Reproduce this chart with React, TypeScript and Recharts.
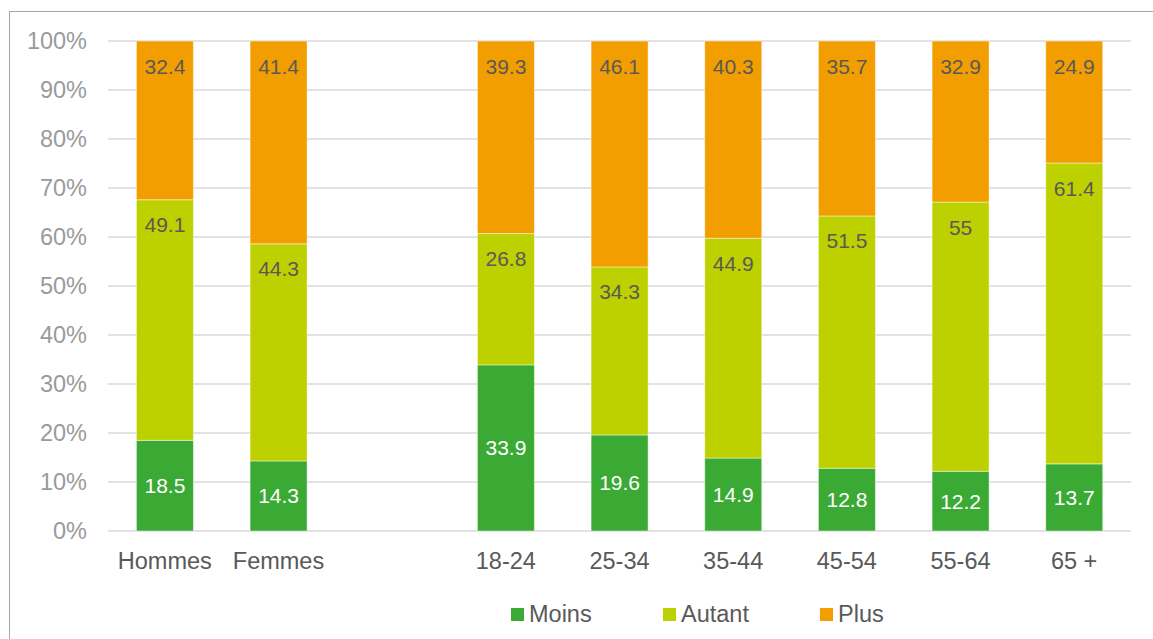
import React from 'react';
import { BarChart, Bar, XAxis, YAxis, CartesianGrid, Legend, LabelList } from 'recharts';

const categories = ['Hommes', 'Femmes', '', '18-24', '25-34', '35-44', '45-54', '55-64', '65 +'];
const moins = [18.5, 14.3, null, 33.9, 19.6, 14.9, 12.8, 12.2, 13.7];
const autant = [49.1, 44.3, null, 26.8, 34.3, 44.9, 51.5, 55, 61.4];
const plus = [32.4, 41.4, null, 39.3, 46.1, 40.3, 35.7, 32.9, 24.9];
const yTicks = [0, 0.1, 0.2, 0.3, 0.4, 0.5, 0.6, 0.7, 0.8, 0.9, 1];

const seriesInfo = [
  { key: 'moins', name: 'Moins', color: '#3AAA35', legendLeft: 511 },
  { key: 'autant', name: 'Autant', color: '#BDD000', legendLeft: 663 },
  { key: 'plus', name: 'Plus', color: '#F29E00', legendLeft: 820 },
];

const data = categories.map((c, i) => ({
  name: c,
  moins: moins[i],
  autant: autant[i],
  plus: plus[i],
}));

const FONT = '"Liberation Sans", Arial, sans-serif';

const makeLabel = (mode: 'center' | 'top', color: string) => (props: any) => {
  const { x, y, width, height, value } = props;
  if (value === null || value === undefined) return null;
  const cy = mode === 'center' ? y + height / 2 : y + 25;
  return (
    <text
      x={x + width / 2}
      y={cy}
      textAnchor="middle"
      dominantBaseline="central"
      fill={color}
      fontSize={21}
      fontFamily={FONT}
    >
      {value}
    </text>
  );
};

const LegendContent = () => (
  <div
    style={{
      position: 'relative',
      fontFamily: FONT,
      fontSize: 23.5,
      color: '#595959',
      height: 34,
      width: 1153,
    }}
  >
    {seriesInfo.map((s) => (
      <div
        key={s.key}
        style={{
          position: 'absolute',
          left: s.legendLeft,
          top: 0,
          height: 34,
          display: 'flex',
          alignItems: 'center',
        }}
      >
        <span
          style={{
            display: 'inline-block',
            width: 13,
            height: 13,
            background: s.color,
            marginRight: 5,
          }}
        />
        <span>{s.name}</span>
      </div>
    ))}
  </div>
);

export default function App() {
  return (
    <div
      style={{
        position: 'absolute',
        left: 0,
        top: 0,
        width: 1153,
        height: 639,
        background: '#fff',
        overflow: 'hidden',
      }}
    >
      <div
        style={{
          position: 'absolute',
          left: 9,
          top: 11,
          width: 1200,
          height: 700,
          border: '1.5px solid #a6a6a6',
          boxSizing: 'border-box',
        }}
      />
      <div style={{ position: 'absolute', left: 0, top: 0 }}>
        <BarChart
          width={1153}
          height={639}
          data={data}
          stackOffset="expand"
          barCategoryGap="25%"
          margin={{ top: 41, right: 22, left: 0, bottom: 0 }}
        >
          <CartesianGrid vertical={false} stroke="#e2e2e2" strokeWidth={2} />
          <XAxis
            dataKey="name"
            tickLine={false}
            axisLine={false}
            tickSize={0}
            tickMargin={21}
            height={74}
            interval={0}
            tick={{ fill: '#595959', fontSize: 23.5, fontFamily: FONT }}
          />
          <YAxis
            width={108}
            domain={[0, 1]}
            ticks={yTicks}
            tickFormatter={(v: number) => `${Math.round(v * 100)}%`}
            tickLine={false}
            axisLine={false}
            tickSize={0}
            tickMargin={21}
            tick={{ fill: '#9a9a9a', fontSize: 23.5, fontFamily: FONT }}
          />
          <Legend
            content={<LegendContent />}
            wrapperStyle={{ position: 'absolute', top: 597, left: 0, width: 1153, bottom: 'auto' }}
          />
          {seriesInfo.map((s) => (
            <Bar
              key={s.key}
              dataKey={s.key}
              name={s.name}
              stackId="a"
              fill={s.color}
              stroke="#ffffff"
              strokeWidth={0.75}
              strokeOpacity={0.6}
              isAnimationActive={false}
            >
              <LabelList
                dataKey={s.key}
                content={makeLabel(s.key === 'moins' ? 'center' : 'top', s.key === 'moins' ? '#ffffff' : '#595959')}
              />
            </Bar>
          ))}
        </BarChart>
      </div>
    </div>
  );
}
